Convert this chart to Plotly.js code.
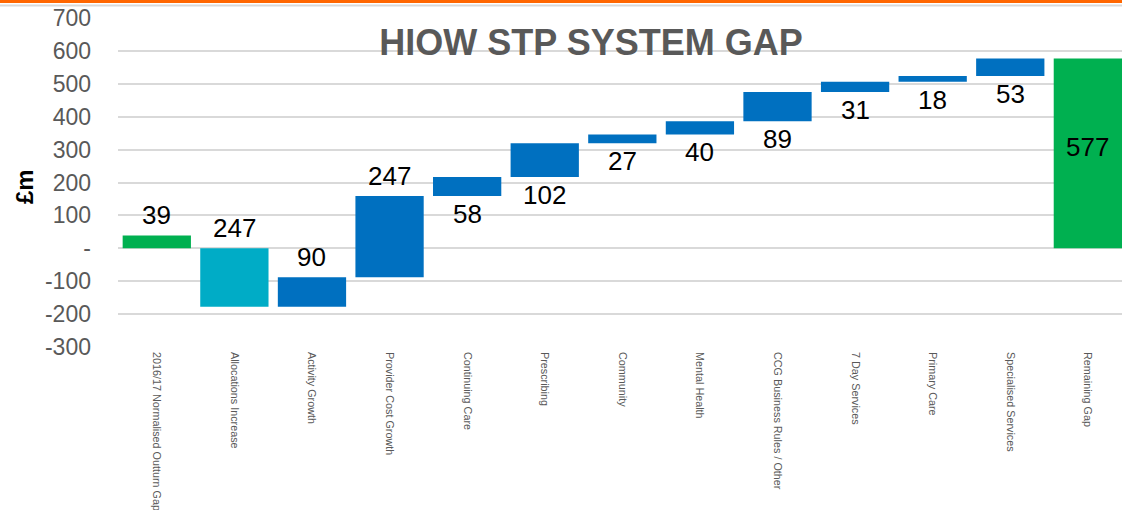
<!DOCTYPE html>
<html>
<head>
<meta charset="utf-8">
<script src="https://cdn.plot.ly/plotly-3.0.1.min.js"></script>
<style>html,body{margin:0;padding:0;background:#fff;overflow:hidden}#chart{width:1122px;height:510px}</style>
</head>
<body>
<div id="chart"></div>
<script>
const categories = ["2016/17 Normalised Outturn Gap","Allocations Increase","Activity Growth","Provider Cost Growth","Continuing Care","Prescribing","Community","Mental Health","CCG Business Rules / Other","7 Day Services","Primary Care","Specialised Services","Remaining Gap"];
const barStart = [0, 0, -178, -88, 159, 217, 319, 346, 386, 475, 506, 524, 0];
const barChange = [39, -178, 90, 247, 58, 102, 27, 40, 89, 31, 18, 53, 577];
const shownLabels = ["39","247","90","247","58","102","27","40","89","31","18","53","577"];
const labelPlace = ["above","above","above","above","below","below","below","below","below","below","below","below","inside"];
const barColors = ["#00B050","#00ACC6","#0070C0","#0070C0","#0070C0","#0070C0","#0070C0","#0070C0","#0070C0","#0070C0","#0070C0","#0070C0","#00B050"];
const yTickVals = [-300,-200,-100,0,100,200,300,400,500,600,700];
const yTickText = ["-300","-200","-100","-","100","200","300","400","500","600","700"];

const ends = barStart.map((s,i)=>s+barChange[i]);
const labelY = labelPlace.map((p,i)=>{
  const hi = Math.max(barStart[i], ends[i]), lo = Math.min(barStart[i], ends[i]);
  return p==="above" ? hi : p==="below" ? lo : (hi+lo)/2;
});

const FONT = "Liberation Sans, Arial, sans-serif";
const T = 18, B = 163; // plot px top/bottom
const plotH = 510 - T - B;
const py = p => (510 - B - p) / plotH;

const labelAnns = categories.map((c,i)=>({
  x:c, y:labelY[i], xref:"x", yref:"y", text:shownLabels[i], showarrow:false,
  font:{family:FONT, size:26, color:"#000"},
  xanchor:"center",
  yanchor: labelPlace[i]==="above" ? "bottom" : labelPlace[i]==="below" ? "top" : "middle",
  yshift: labelPlace[i]==="above" ? 3 : labelPlace[i]==="below" ? -1 : 6
}));

const traces = [
  {type:"bar", x:categories, y:barChange, base:barStart, marker:{color:barColors, line:{width:0}}, hoverinfo:"skip"}
];

const layout = {
  width:1122, height:510,
  margin:{l:118, r:0, t:T, b:B},
  paper_bgcolor:"#fff", plot_bgcolor:"#fff",
  showlegend:false,
  bargap:0.12,
  font:{family:FONT, color:"#595959"},
  title:{text:"HIOW STP SYSTEM GAP", font:{family:FONT, size:36, color:"#595959", weight:"bold"},
         xref:"container", x:591/1122, xanchor:"center", yref:"container", y:1-42/510, yanchor:"middle"},
  xaxis:{type:"category", range:[-0.5, 12.44], tickangle:90, tickfont:{family:FONT, size:10.8, color:"#595959"},
         showgrid:false, zeroline:false, showline:false, ticks:"", ticklabelstandoff:4},
  yaxis:{range:[-300,700], tickvals:yTickVals, ticktext:yTickText, tickfont:{family:FONT, size:23, color:"#595959"},
         showgrid:true, gridcolor:"#D9D9D9", gridwidth:2, zeroline:false, showline:false, ticks:"", ticklabelstandoff:26},
  annotations:[
    {text:"<b>£m</b>", xref:"paper", yref:"paper", x:(25-118)/1004, y:py(187), textangle:-90, showarrow:false,
     font:{family:FONT, size:24, color:"#000"}, xanchor:"center", yanchor:"middle"}
  ].concat(labelAnns),
  shapes:[
    {type:"line", xref:"paper", yref:"paper", x0:-118/1004, x1:1, y0:py(1.5), y1:py(1.5), line:{color:"#FF6600", width:3}},
    {type:"line", xref:"paper", yref:"paper", x0:-118/1004, x1:1, y0:py(5.5), y1:py(5.5), line:{color:"#D9D9D9", width:2}}
  ]
};

Plotly.newPlot("chart", traces, layout, {displayModeBar:false, staticPlot:true});
</script>
</body>
</html>
